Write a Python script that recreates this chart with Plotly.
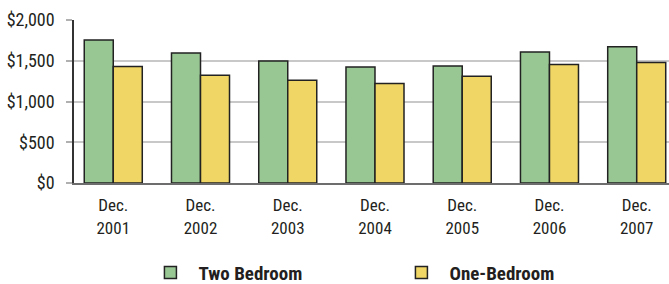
import plotly.graph_objects as go

categories = ["Dec.<br>2001", "Dec.<br>2002", "Dec.<br>2003", "Dec.<br>2004",
              "Dec.<br>2005", "Dec.<br>2006", "Dec.<br>2007"]
two_bedroom = [1755, 1595, 1497, 1423, 1436, 1607, 1673]
one_bedroom = [1428, 1321, 1260, 1220, 1309, 1453, 1477]
y_ticks = [0, 500, 1000, 1500, 2000]
y_tick_labels = ["$0", "$500", "$1,000", "$1,500", "$2,000"]

FONT = "Liberation Sans Narrow, Roboto Condensed, Arial Narrow, sans-serif"

fig = go.Figure()
fig.add_trace(go.Bar(x=categories, y=two_bedroom, name="Two Bedroom",
                     marker=dict(color="#99C794", line=dict(color="#222222", width=1.5))))
fig.add_trace(go.Bar(x=categories, y=one_bedroom, name="One-Bedroom",
                     marker=dict(color="#F0D665", line=dict(color="#222222", width=1.5))))

fig.update_layout(
    width=669, height=284,
    margin=dict(l=74, r=0, t=20, b=101, autoexpand=False),
    plot_bgcolor="white", paper_bgcolor="white",
    barmode="group", bargap=0.335, bargroupgap=0,
    font=dict(family=FONT, size=16, color="#231f20"),
    showlegend=True,
    legend=dict(orientation="h", x=0.115, y=-0.55, xanchor="left", yanchor="middle",
                font=dict(family=FONT, size=19, color="#231f20", weight="bold"),
                itemwidth=46,
                entrywidth=190, entrywidthmode="pixels",
                bgcolor="rgba(0,0,0,0)"),
)
fig.update_xaxes(
    range=[-0.45, 6.37], showline=True, linecolor="#6d6d6d", linewidth=2,
    ticks="", showgrid=False, ticklabelstandoff=6, automargin=False,
    tickfont=dict(family=FONT, size=17, color="#231f20"),
)
fig.update_yaxes(
    range=[0, 2000], tickvals=y_ticks, ticktext=y_tick_labels,
    showline=True, linecolor="#333333", linewidth=1.5,
    ticks="outside", ticklen=6, tickcolor="#b0b0b0", tickwidth=1.5,
    showgrid=True, gridcolor="#c8c8c8", gridwidth=1.5, zeroline=False,
    ticklabelstandoff=8, automargin=False,
    tickfont=dict(family=FONT, size=18, color="#231f20"),
)

fig.write_html("out.html", config={"displayModeBar": False},
               post_script="document.body.style.margin='0';document.body.style.overflow='hidden';")
